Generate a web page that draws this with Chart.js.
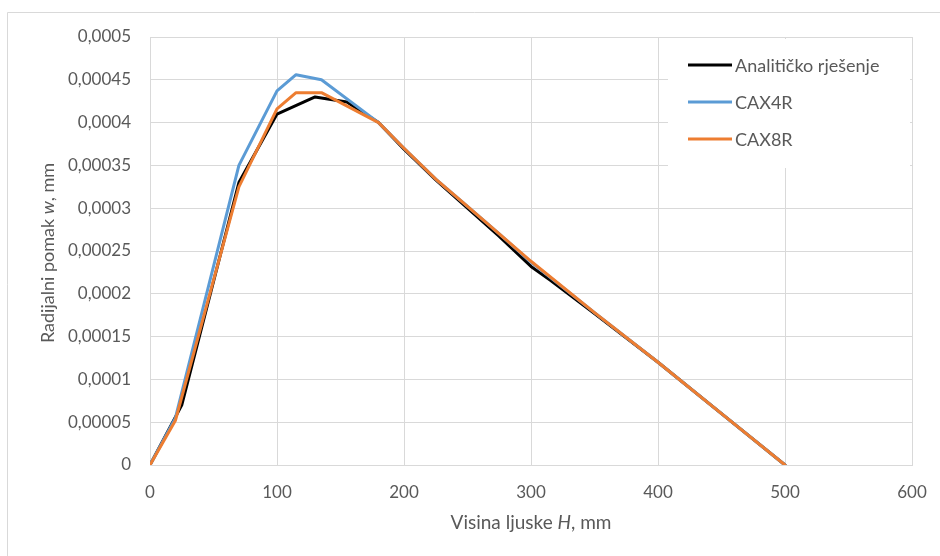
<!DOCTYPE html>
<html>
<head>
<meta charset="utf-8">
<script src="https://cdn.jsdelivr.net/npm/chart.js@4/dist/chart.umd.min.js"></script>
<style>
  html, body { margin: 0; padding: 0; background: #ffffff; }
  #wrap { width: 940px; height: 556px; }
</style>
</head>
<body>
<div id="wrap"><canvas id="c" width="940" height="556"></canvas></div>
<script>
// ---- data ----
const seriesNames = ['Analitičko rješenje', 'CAX4R', 'CAX8R'];

const analyticH = [0, 25, 70, 100, 130, 155, 180, 200, 225, 250, 275, 300, 315, 350, 400, 450, 500];
const analyticW = [0, 0.00007, 0.00033, 0.00041, 0.00043, 0.000424, 0.0004, 0.000369, 0.000333, 0.0003, 0.000267, 0.000232, 0.000216, 0.000177, 0.00012, 0.00006, 0];

const cax4rH = [0, 20, 70, 100, 115, 135, 180, 200, 225, 250, 275, 300, 350, 400, 450, 500];
const cax4rW = [0, 0.000055, 0.00035, 0.000437, 0.000456, 0.00045, 0.0004, 0.00037, 0.000334, 0.000302, 0.00027, 0.000237, 0.000178, 0.00012, 0.00006, 0];

const cax8rH = [0, 20, 70, 100, 115, 135, 180, 200, 225, 250, 275, 300, 350, 400, 450, 500];
const cax8rW = [0, 0.000052, 0.000325, 0.000416, 0.000435, 0.000435, 0.0004, 0.00037, 0.000334, 0.000302, 0.00027, 0.000238, 0.000178, 0.00012, 0.00006, 0];

const xTickLabels = ['0', '100', '200', '300', '400', '500', '600'];
const yTickLabels = ['0', '0,00005', '0,0001', '0,00015', '0,0002', '0,00025', '0,0003', '0,00035', '0,0004', '0,00045', '0,0005'];

const xTitleParts = [['Visina ljuske ', false], ['H', true], [', mm', false]];
const yTitleParts = [['Radijalni pomak ', false], ['w', true], [', mm', false]];

// ---- styling ----
const colors = ['#000000', '#5B9BD5', '#ED7D31'];
const FONT = 'Lato, "Open Sans", sans-serif';
const TEXT = '#595959';
const GRID = '#D9D9D9';

function toPoints(xs, ys) { return xs.map((x, i) => ({ x: x, y: ys[i] })); }

const datasets = [
  { label: seriesNames[0], data: toPoints(analyticH, analyticW), order: 3 },
  { label: seriesNames[1], data: toPoints(cax4rH, cax4rW), order: 2 },
  { label: seriesNames[2], data: toPoints(cax8rH, cax8rW), order: 1 }
].map((d, i) => Object.assign(d, {
  borderColor: colors[i],
  backgroundColor: colors[i],
  borderWidth: 3,
  pointRadius: 0,
  pointHoverRadius: 0,
  showLine: true,
  tension: 0,
  borderJoinStyle: 'round',
  borderCapStyle: 'round',
  fill: false
}));

function drawParts(ctx, parts, size, cx, cy) {
  let total = 0;
  const widths = parts.map(p => {
    ctx.font = (p[1] ? 'italic ' : '') + size + 'px ' + FONT;
    const w = ctx.measureText(p[0]).width;
    total += w;
    return w;
  });
  let x = cx - total / 2;
  parts.forEach((p, i) => {
    ctx.font = (p[1] ? 'italic ' : '') + size + 'px ' + FONT;
    ctx.fillText(p[0], x, cy);
    x += widths[i];
  });
}

const decor = {
  id: 'decor',
  beforeDraw(chart) {
    const ctx = chart.ctx;
    ctx.save();
    ctx.fillStyle = '#ffffff';
    ctx.fillRect(0, 0, chart.width, chart.height);
    ctx.strokeStyle = GRID;
    ctx.lineWidth = 1;
    ctx.beginPath();
    ctx.moveTo(7.5, chart.height + 5);
    ctx.lineTo(7.5, 12.5);
    ctx.lineTo(chart.width + 5, 12.5);
    ctx.stroke();
    ctx.restore();
  },
  afterDatasetsDraw(chart) {
    const ctx = chart.ctx;
    const a = chart.chartArea;
    ctx.save();
    // legend box
    ctx.fillStyle = '#ffffff';
    ctx.fillRect(668, a.top + 2, a.right - 2 - 668, 168 - a.top - 2);
    const rows = [65, 102, 139];
    ctx.font = '18px ' + FONT;
    ctx.textBaseline = 'middle';
    ctx.textAlign = 'left';
    seriesNames.forEach((name, i) => {
      ctx.strokeStyle = colors[i];
      ctx.lineWidth = 3;
      ctx.beginPath();
      ctx.moveTo(688, rows[i]);
      ctx.lineTo(732, rows[i]);
      ctx.stroke();
      ctx.fillStyle = TEXT;
      ctx.fillText(name, 735, rows[i] + 1);
    });
    ctx.restore();
  },
  afterDraw(chart) {
    const ctx = chart.ctx;
    const a = chart.chartArea;
    ctx.save();
    ctx.fillStyle = TEXT;
    ctx.textBaseline = 'middle';
    ctx.textAlign = 'left';
    drawParts(ctx, xTitleParts, 19, (a.left + a.right) / 2, 523);
    ctx.translate(48, (a.top + a.bottom) / 2 + 2);
    ctx.rotate(-Math.PI / 2);
    drawParts(ctx, yTitleParts, 18, 0, 0);
    ctx.restore();
  }
};

new Chart(document.getElementById('c'), {
  type: 'scatter',
  data: { datasets: datasets },
  options: {
    responsive: false,
    devicePixelRatio: 1,
    animation: false,
    events: [],
    layout: { padding: { left: 0, top: 37, right: 28, bottom: 0 } },
    plugins: {
      legend: { display: false },
      tooltip: { enabled: false },
      title: { display: false }
    },
    scales: {
      x: {
        type: 'linear',
        min: 0,
        max: 600,
        ticks: {
          stepSize: 100,
          color: TEXT,
          font: { family: FONT, size: 17 },
          padding: 17,
          maxRotation: 0,
          callback: (v, i) => xTickLabels[i]
        },
        grid: { color: GRID, lineWidth: 1, drawTicks: false },
        border: { color: GRID, width: 1 },
        afterFit(scale) { scale.height = 91; scale.paddingLeft = 0; scale.paddingRight = 0; }
      },
      y: {
        type: 'linear',
        min: 0,
        max: 0.0005,
        ticks: {
          stepSize: 0.00005,
          color: TEXT,
          font: { family: FONT, size: 17 },
          padding: 19,
          callback: (v, i) => yTickLabels[i]
        },
        grid: { color: GRID, lineWidth: 1, drawTicks: false },
        border: { color: GRID, width: 1 },
        afterFit(scale) { scale.width = 150; scale.paddingTop = 0; scale.paddingBottom = 0; }
      }
    }
  },
  plugins: [decor]
});
</script>
</body>
</html>
